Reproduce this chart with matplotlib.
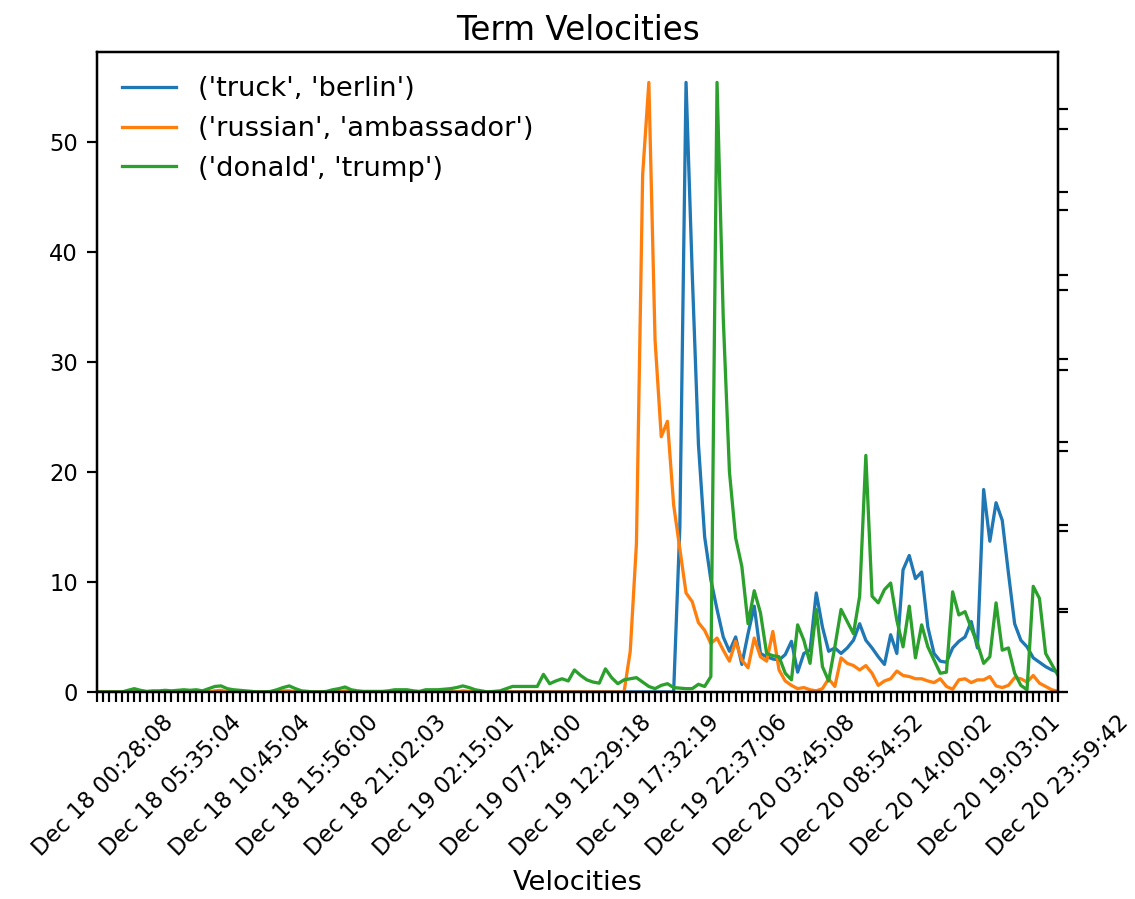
import numpy as np
import matplotlib.pyplot as plt

# term velocity per time window (index = window number)
truck_berlin = [0.0] * 94 + [
    15.0, 55.4, 38.0, 22.5, 14.1, 10.2, 7.5, 5.0, 3.7, 5.0,
    2.5, 5.3, 7.8, 3.5, 3.2, 3.0, 2.9, 3.4, 4.6, 1.8,
    3.5, 3.8, 9.0, 5.9, 3.7, 4.0, 3.5, 4.0, 4.7, 6.2,
    4.7, 4.0, 3.2, 2.5, 5.2, 3.5, 11.1, 12.4, 10.3, 10.9,
    5.9, 3.5, 2.8, 2.7, 4.0, 4.6, 5.0, 6.4, 4.0, 18.4,
    13.7, 17.2, 15.6, 10.8, 6.2, 4.7, 4.1, 3.1, 2.7, 2.3,
    2.0, 1.8]

russian_ambassador = [
    0.0, 0.0, 0.0, 0.0, 0.0, 0.0, 0.0, 0.0, 0.0, 0.0,
    0.0, 0.0, 0.0, 0.0, 0.0, 0.0, 0.0, 0.0, 0.0, 0.1,
    0.15, 0.0, 0.0, 0.0, 0.0, 0.0, 0.0, 0.0, 0.0, 0.0,
    0.1, 0.1, 0.0, 0.0, 0.0, 0.0, 0.0, 0.0, 0.0, 0.0,
    0.1, 0.0, 0.0, 0.0, 0.0, 0.0, 0.0, 0.0, 0.0, 0.0,
    0.0, 0.0, 0.0, 0.0, 0.0, 0.0, 0.0, 0.0, 0.0, 0.1,
    0.05, 0.0, 0.0, 0.0, 0.0, 0.0, 0.0, 0.0, 0.0, 0.0,
    0.0, 0.0, 0.0, 0.0, 0.0, 0.0, 0.0, 0.0, 0.0, 0.0,
    0.0, 0.0, 0.0, 0.0, 0.0, 0.0, 3.7, 13.5, 47.0, 55.4,
    32.0, 23.2, 24.6, 17.0, 13.0, 9.0, 8.2, 6.3, 5.6, 4.4,
    4.9, 3.8, 2.8, 4.6, 2.9, 2.2, 4.9, 3.2, 2.8, 5.5,
    2.0, 1.0, 0.6, 0.3, 0.4, 0.2, 0.1, 0.3, 1.2, 0.5,
    3.1, 2.6, 2.4, 2.0, 2.4, 1.7, 0.6, 1.0, 1.2, 1.9,
    1.5, 1.4, 1.2, 1.2, 1.0, 0.85, 1.2, 0.5, 0.25, 1.1,
    1.2, 0.85, 1.1, 1.1, 1.4, 0.55, 0.4, 0.6, 1.3, 1.2,
    0.9, 1.5, 0.8, 0.5, 0.2, 0.05]

donald_trump = [
    0.0, 0.0, 0.0, 0.0, 0.0, 0.15, 0.3, 0.15, 0.05, 0.1,
    0.1, 0.15, 0.1, 0.15, 0.2, 0.15, 0.2, 0.1, 0.3, 0.5,
    0.55, 0.3, 0.2, 0.15, 0.1, 0.05, 0.0, 0.0, 0.05, 0.2,
    0.4, 0.55, 0.3, 0.1, 0.05, 0.0, 0.0, 0.05, 0.2, 0.3,
    0.45, 0.2, 0.1, 0.05, 0.05, 0.05, 0.05, 0.1, 0.2, 0.2,
    0.2, 0.1, 0.05, 0.2, 0.2, 0.2, 0.25, 0.3, 0.4, 0.55,
    0.4, 0.2, 0.1, 0.0, 0.05, 0.1, 0.3, 0.5, 0.5, 0.5,
    0.5, 0.5, 1.6, 0.75, 1.0, 1.2, 1.0, 2.0, 1.5, 1.1,
    0.9, 0.8, 2.1, 1.3, 0.75, 1.1, 1.2, 1.3, 0.9, 0.5,
    0.3, 0.6, 0.75, 0.4, 0.35, 0.3, 0.3, 0.7, 0.5, 1.4,
    55.4, 34.0, 20.0, 14.0, 11.4, 6.2, 9.2, 7.2, 3.5, 3.3,
    3.2, 1.7, 1.1, 6.1, 4.7, 2.6, 7.5, 2.3, 1.0, 4.1,
    7.5, 6.4, 5.3, 8.7, 21.5, 8.7, 8.1, 9.3, 9.9, 6.5,
    4.1, 7.8, 3.1, 6.1, 4.1, 2.9, 1.7, 1.8, 9.1, 7.0,
    7.3, 5.8, 4.4, 2.6, 3.2, 8.1, 3.8, 4.0, 1.7, 0.6,
    0.2, 9.6, 8.5, 3.5, 2.5, 1.5]

terms = [('truck', 'berlin'), ('russian', 'ambassador'), ('donald', 'trump')]

# one label every 11 windows, starting at window 1
tick_labels = [
    'Dec 18 00:28:08', 'Dec 18 05:35:04', 'Dec 18 10:45:04', 'Dec 18 15:56:00',
    'Dec 18 21:02:03', 'Dec 19 02:15:01', 'Dec 19 07:24:00', 'Dec 19 12:29:18',
    'Dec 19 17:32:19', 'Dec 19 22:37:06', 'Dec 20 03:45:08', 'Dec 20 08:54:52',
    'Dec 20 14:00:02', 'Dec 20 19:03:01', 'Dec 20 23:59:42']
label_start = 1
label_step = 11

dpi = 196
fig = plt.figure(figsize=(1135 / dpi, 899 / dpi), dpi=dpi)
ax = fig.add_axes([0.0855, 0.2303, 0.8467, 0.7119])

n = len(truck_berlin)
x = np.arange(n)
for vals, term in zip([truck_berlin, russian_ambassador, donald_trump], terms):
    ax.plot(x, vals, label=str(term), linewidth=1.2)

ax.set_xlim(0, n - 1)
ax.set_ylim(0, max(max(truck_berlin), max(russian_ambassador), max(donald_trump)) * 1.05)

labels = [''] * n
for k, lab in enumerate(tick_labels):
    labels[label_start + k * label_step] = lab
ax.set_xticks(x)
ax.set_xticklabels(labels, rotation=45)
ax.set_yticks([0, 10, 20, 30, 40, 50])
ax.tick_params(labelsize=8.3)

# two empty secondary axes leave unlabeled ticks on the right
for top in (7.68, 7.96):
    tw = ax.twinx()
    tw.set_ylim(0, top)
    tw.set_yticks(range(8))
    tw.tick_params(labelright=False)

ax.legend(loc='upper left', frameon=False)
ax.set_title('Term Velocities', pad=4.5)
ax.set_xlabel('Velocities', labelpad=3.5)

fig.savefig('out.png', dpi=dpi)
